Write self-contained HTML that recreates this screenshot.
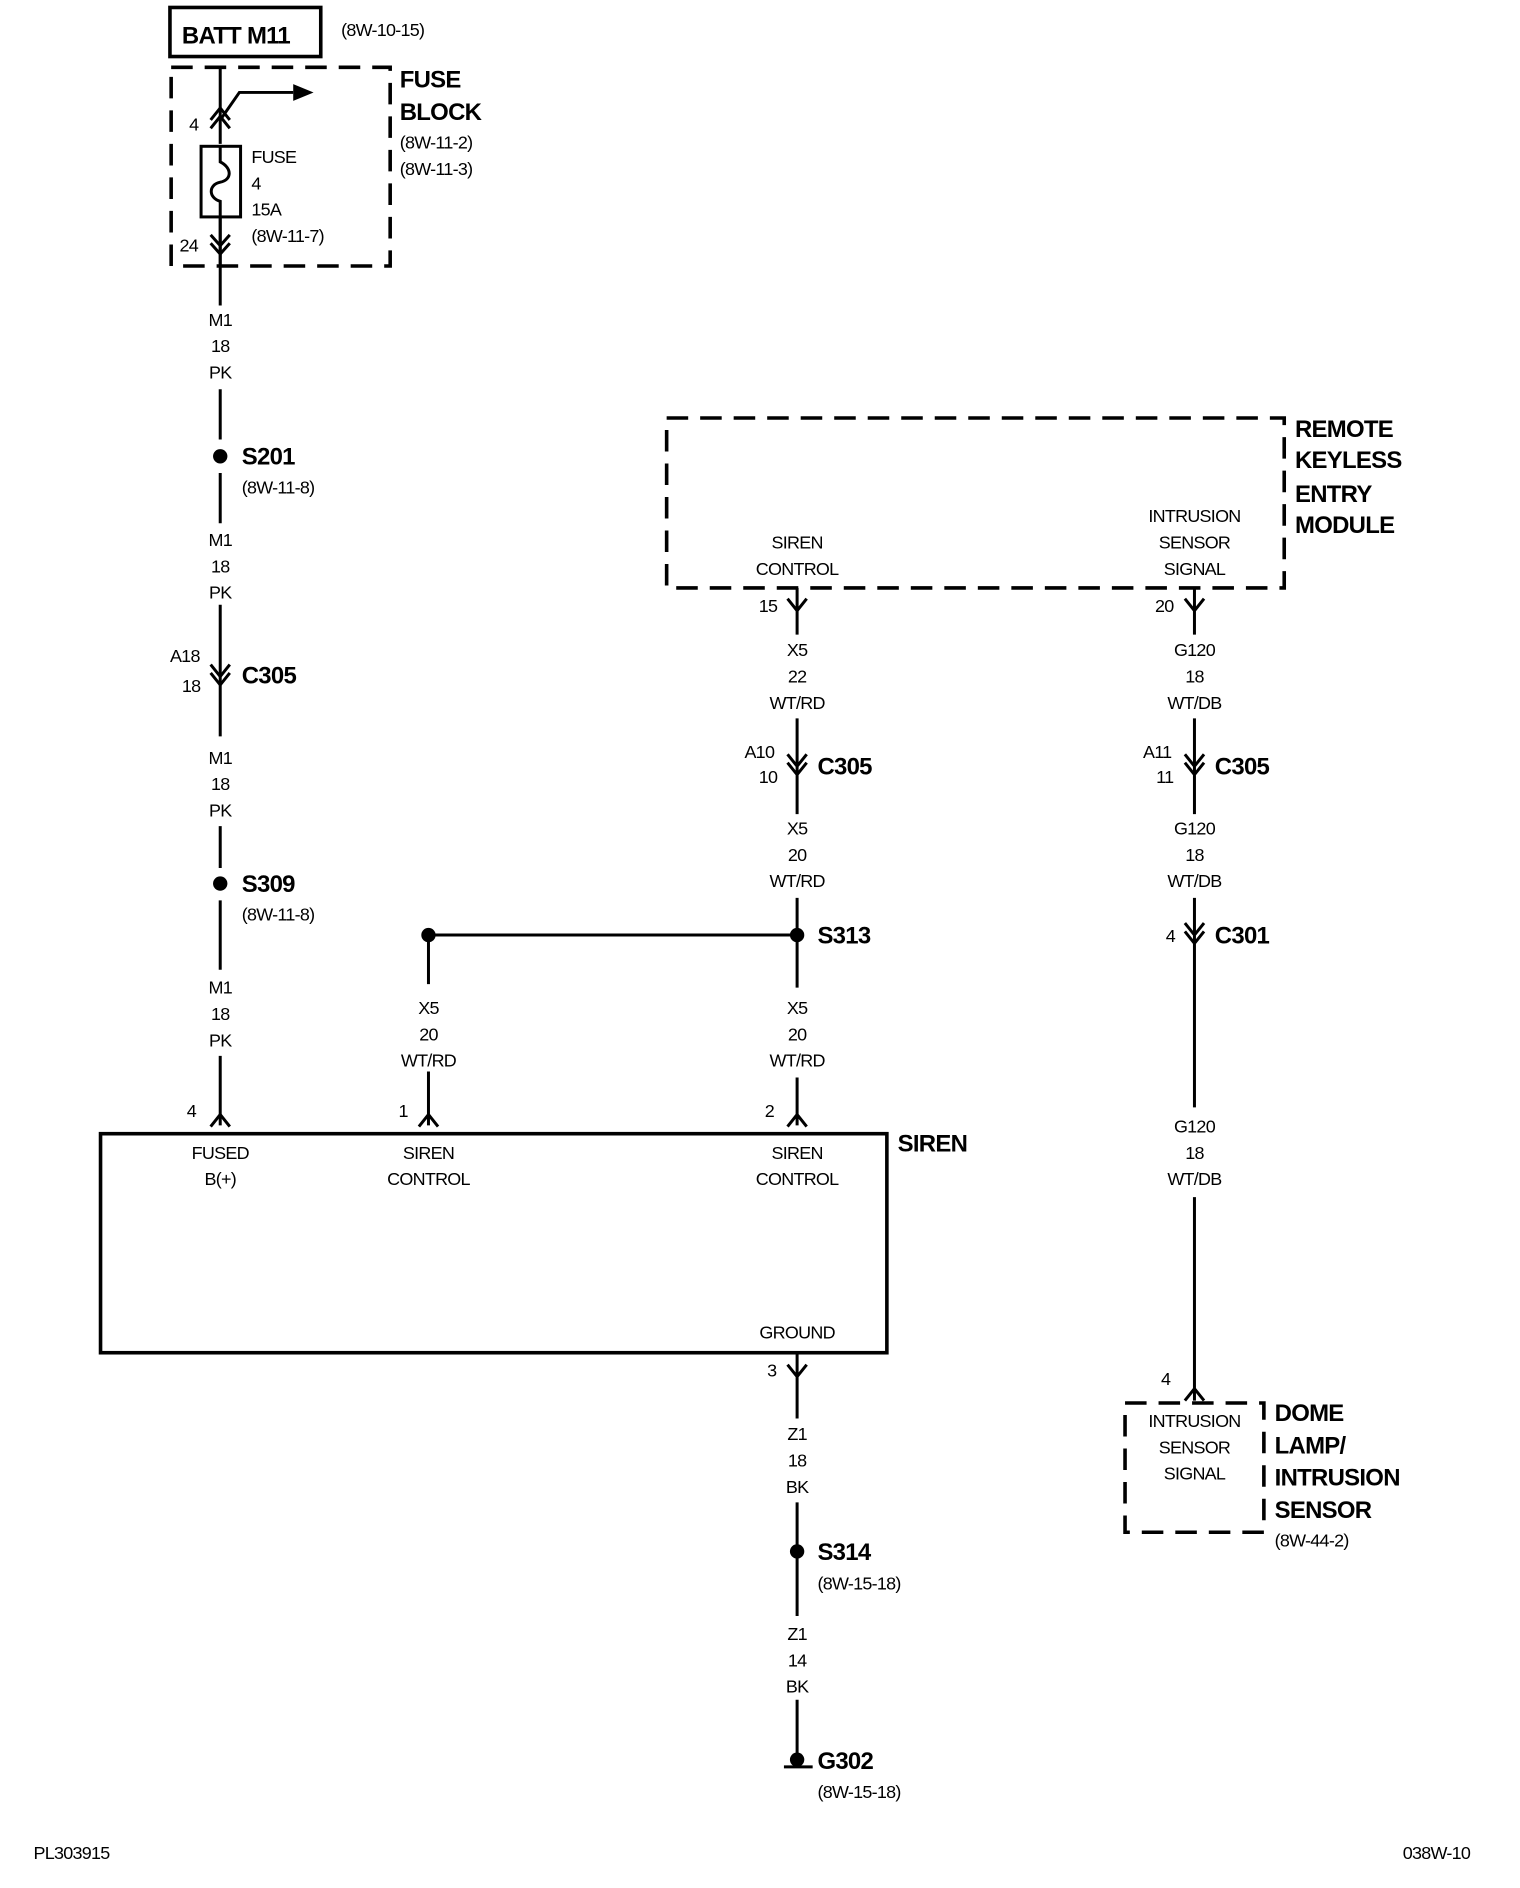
<!DOCTYPE html>
<html><head><meta charset="utf-8"><style>
html,body{margin:0;padding:0;background:#fff;}
svg{display:block;}
text{font-family:"Liberation Sans Narrow","Liberation Sans",sans-serif;fill:#000;letter-spacing:-0.6px;}
.s{font-size:15px;}
.b{font-size:20px;font-weight:bold;}
.c{text-anchor:middle;}
</style></head><body>
<svg width="1520" height="1888" viewBox="0 0 1270 1577" xmlns="http://www.w3.org/2000/svg">
<rect width="1270" height="1577" fill="#fff"/>
<g stroke="#000" fill="none" stroke-width="2.5">
<rect x="142" y="6" width="126" height="41" stroke-width="3"/>
<rect x="143" y="56" width="183" height="166" stroke-width="3" stroke-dasharray="18,10"/>
<path d="M184 56V120M184 182V255M184 325V367M184 395V437M184 505V580M184 577V615M184 690V725M184 752V810M184 882V940"/>
<path d="M184 100L200 77H245"/>
<rect x="168" y="122" width="33" height="59"/>
<path d="M184 122V135C194 140 194 150 184 152C174 154 174 165 184 168V181"/>
<path d="M184 182V222"/>
<path d="M176 100L184 90L192 100M176 107L184 97L192 107"/>
<path d="M176 196L184 205L192 196M176 203L184 212L192 203"/>
<path d="M176 555L184 565L192 555M176 562L184 572L192 562"/>
<path d="M176 941L184 931L192 941"/>
<rect x="84" y="947" width="657" height="183" stroke-width="3"/>
<path d="M358 781V822M358 895V940M350 941L358 931L366 941M358 781H666"/>
<rect x="557" y="349" width="516" height="142" stroke-width="3" stroke-dasharray="18,10"/>
<path d="M666 491V530M658 500L666 510L674 500M666 600V680M658 630L666 640L674 630M658 637L666 647L674 637M666 750V825M666 900V940M658 941L666 931L674 941"/>
<path d="M666 1130V1185M658 1140L666 1150L674 1140M666 1255V1350M666 1420V1472M655 1476H679"/>
<path d="M998 491V530M990 500L998 510L1006 500M998 600V680M990 630L998 640L1006 630M990 637L998 647L1006 637M998 750V925M990 771L998 781L1006 771M990 778L998 788L1006 778M998 1000V1170M990 1170L998 1160L1006 1170"/>
<rect x="940" y="1172" width="116" height="108" stroke-width="3" stroke-dasharray="18,10"/>
</g>
<polygon points="245,70 262,77 245,84" fill="#000"/>
<g fill="#000">
<circle cx="184" cy="381" r="6"/><circle cx="184" cy="738" r="6"/>
<circle cx="358" cy="781" r="6"/><circle cx="666" cy="781" r="6"/>
<circle cx="666" cy="1296" r="6"/><circle cx="666" cy="1470" r="6"/>
</g>
<text class="b" x="152" y="36">BATT M11</text>
<text class="s" x="285" y="30">(8W-10-15)</text>
<text class="b" x="334" y="73">FUSE</text><text class="b" x="334" y="100">BLOCK</text>
<text class="s" x="334" y="124">(8W-11-2)</text><text class="s" x="334" y="146">(8W-11-3)</text>
<text class="s" x="158" y="109">4</text>
<text class="s" x="210" y="136">FUSE</text><text class="s" x="210" y="158">4</text>
<text class="s" x="210" y="180">15A</text><text class="s" x="210" y="202">(8W-11-7)</text>
<text class="s" x="150" y="210">24</text>
<text class="s c" x="184" y="272">M1</text><text class="s c" x="184" y="294">18</text><text class="s c" x="184" y="316">PK</text>
<text class="s c" x="184" y="456">M1</text><text class="s c" x="184" y="478">18</text><text class="s c" x="184" y="500">PK</text>
<text class="s c" x="184" y="638">M1</text><text class="s c" x="184" y="660">18</text><text class="s c" x="184" y="682">PK</text>
<text class="s c" x="184" y="830">M1</text><text class="s c" x="184" y="852">18</text><text class="s c" x="184" y="874">PK</text>
<text class="s c" x="358" y="847">X5</text><text class="s c" x="358" y="869">20</text><text class="s c" x="358" y="891">WT/RD</text>
<text class="s c" x="666" y="548">X5</text><text class="s c" x="666" y="570">22</text><text class="s c" x="666" y="592">WT/RD</text>
<text class="s c" x="666" y="697">X5</text><text class="s c" x="666" y="719">20</text><text class="s c" x="666" y="741">WT/RD</text>
<text class="s c" x="666" y="847">X5</text><text class="s c" x="666" y="869">20</text><text class="s c" x="666" y="891">WT/RD</text>
<text class="s c" x="998" y="548">G120</text><text class="s c" x="998" y="570">18</text><text class="s c" x="998" y="592">WT/DB</text>
<text class="s c" x="998" y="697">G120</text><text class="s c" x="998" y="719">18</text><text class="s c" x="998" y="741">WT/DB</text>
<text class="s c" x="998" y="946">G120</text><text class="s c" x="998" y="968">18</text><text class="s c" x="998" y="990">WT/DB</text>
<text class="s c" x="666" y="1203">Z1</text><text class="s c" x="666" y="1225">18</text><text class="s c" x="666" y="1247">BK</text>
<text class="s c" x="666" y="1370">Z1</text><text class="s c" x="666" y="1392">14</text><text class="s c" x="666" y="1414">BK</text>
<text class="s c" x="184" y="968">FUSED</text><text class="s c" x="184" y="990">B(+)</text>
<text class="s c" x="358" y="968">SIREN</text><text class="s c" x="358" y="990">CONTROL</text>
<text class="s c" x="666" y="968">SIREN</text><text class="s c" x="666" y="990">CONTROL</text>
<text class="s c" x="666" y="1118">GROUND</text>
<text class="s c" x="666" y="458">SIREN</text><text class="s c" x="666" y="480">CONTROL</text>
<text class="s c" x="998" y="436">INTRUSION</text><text class="s c" x="998" y="458">SENSOR</text><text class="s c" x="998" y="480">SIGNAL</text>
<text class="s c" x="998" y="1192">INTRUSION</text><text class="s c" x="998" y="1214">SENSOR</text><text class="s c" x="998" y="1236">SIGNAL</text>
<text class="b" x="202" y="388">S201</text><text class="s" x="202" y="412">(8W-11-8)</text>
<text class="s" x="142" y="553">A18</text><text class="s" x="152" y="578">18</text>
<text class="b" x="202" y="571">C305</text>
<text class="b" x="202" y="745">S309</text><text class="s" x="202" y="769">(8W-11-8)</text>
<text class="s" x="156" y="933">4</text><text class="s" x="333" y="933">1</text><text class="s" x="639" y="933">2</text>
<text class="b" x="750" y="962">SIREN</text>
<text class="b" x="683" y="788">S313</text>
<text class="s" x="634" y="511">15</text>
<text class="s" x="622" y="633">A10</text><text class="s" x="634" y="654">10</text>
<text class="b" x="683" y="647">C305</text>
<text class="s" x="965" y="511">20</text>
<text class="s" x="955" y="633">A11</text><text class="s" x="966" y="654">11</text>
<text class="b" x="1015" y="647">C305</text>
<text class="s" x="974" y="787">4</text>
<text class="b" x="1015" y="788">C301</text>
<text class="s" x="970" y="1157">4</text>
<text class="b" x="1082" y="365">REMOTE</text><text class="b" x="1082" y="391">KEYLESS</text>
<text class="b" x="1082" y="419">ENTRY</text><text class="b" x="1082" y="445">MODULE</text>
<text class="s" x="641" y="1150">3</text>
<text class="b" x="683" y="1303">S314</text><text class="s" x="683" y="1328">(8W-15-18)</text>
<text class="b" x="683" y="1478">G302</text><text class="s" x="683" y="1502">(8W-15-18)</text>
<text class="b" x="1065" y="1187">DOME</text><text class="b" x="1065" y="1214">LAMP/</text>
<text class="b" x="1065" y="1241">INTRUSION</text><text class="b" x="1065" y="1268">SENSOR</text>
<text class="s" x="1065" y="1292">(8W-44-2)</text>
<text class="s" x="28" y="1553">PL303915</text>
<text class="s" x="1172" y="1553">038W-10</text>
</svg>
</body></html>
